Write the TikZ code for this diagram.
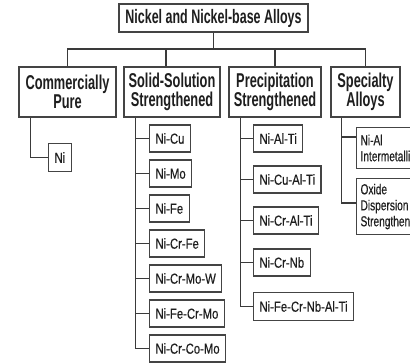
\documentclass[tikz,border=0pt]{standalone}
\usepackage{fontspec}
\setmainfont{Liberation Sans}
\newfontfamily\boldcond{Liberation Sans}[FakeStretch=0.64]
\newfontfamily\leaffont{Liberation Sans}[FakeStretch=0.78,FakeBold=0.4]
\newfontfamily\specfont{Liberation Sans}[FakeStretch=0.70,FakeBold=0.4]
\usetikzlibrary{calc}
\definecolor{linec}{HTML}{3A3A3A}
\definecolor{boxc}{HTML}{444444}
\definecolor{txtc}{HTML}{1E1E1E}
\tikzset{
  conn/.style={draw=linec, line width=1.25pt},
  topbox/.style={draw=boxc, line width=1.1pt, text=txtc,
    font=\boldcond\bfseries\fontsize{19.5}{21}\selectfont,
    inner sep=0pt, minimum width=189pt, minimum height=28pt},
  catbox/.style={draw=boxc, line width=1.1pt, text=txtc,
    font=\boldcond\bfseries\fontsize{20}{18.5}\selectfont,
    align=center, inner sep=0pt, minimum height=50pt},
  leaf/.style={draw=boxc, line width=1.1pt, text=txtc,
    font=\leaffont\fontsize{14.5}{16}\selectfont,
    inner xsep=6pt, inner ysep=0pt, minimum height=27pt, anchor=west},
  specbox/.style={draw=boxc, line width=1.1pt, text=txtc,
    font=\specfont\fontsize{14.5}{16}\selectfont,
    align=left, inner xsep=4pt, inner ysep=0pt, minimum width=80pt,
    anchor=north west, text width=72pt}
}
\begin{document}
\begin{tikzpicture}[x=1pt,y=-1pt]
\useasboundingbox (0,0) rectangle (410,363);
\clip (0,0) rectangle (410,363);
\fill[white] (0,0) rectangle (410,363);

% root and categories
\node[topbox] (root) at (213.5,18) {Nickel and Nickel-base Alloys};
\node[catbox, minimum width=97pt] (cp) at (67.5,92) {Commercially\\Pure};
\node[catbox, minimum width=96pt] (ss) at (172,92) {Solid-Solution\\Strengthened};
\node[catbox, minimum width=92pt] (ps) at (275,92) {Precipitation\\Strengthened};
\node[catbox, minimum width=69pt] (sa) at (365.5,92) {Specialty\\Alloys};

\coordinate (bar) at (213,49);
\coordinate (ssdrop) at ($(ss.north)+(-6,0)$);
\draw[conn] (root.south) -- (root.south |- bar);
\draw[conn] (cp.north) -- (cp.north |- bar) -- (sa.north |- bar) -- (sa.north);
\draw[conn] (ssdrop |- bar) -- (ssdrop);
\draw[conn] (ps.north |- bar) -- (ps.north);

% Commercially pure
\coordinate (cpsp) at ($(cp.south west)+(12,0)$);
\node[leaf, minimum height=28pt] (ni) at (48,157.5) {Ni};
\draw[conn] (cpsp) |- (ni.west);

% Solid-solution
\coordinate (sssp) at ($(ss.south west)+(12,0)$);
\node[leaf] (s1) at (149,138.5) {Ni-Cu};
\node[leaf] (s2) at (149,173.5) {Ni-Mo};
\node[leaf] (s3) at (149,208.5) {Ni-Fe};
\node[leaf] (s4) at (149,243.5) {Ni-Cr-Fe};
\node[leaf] (s5) at (149,278.5) {Ni-Cr-Mo-W};
\node[leaf] (s6) at (149,313.5) {Ni-Fe-Cr-Mo};
\node[leaf] (s7) at (149,348.5) {Ni-Cr-Co-Mo};
\draw[conn] (sssp) |- (s7.west);
\foreach \n in {s1,s2,s3,s4,s5,s6}
  \draw[conn] (\n.west -| sssp) -- (\n.west);

% Precipitation
\coordinate (pssp) at ($(ps.south west)+(12,0)$);
\node[leaf] (p1) at (253,138.5) {Ni-Al-Ti};
\node[leaf] (p2) at (253,179.5) {Ni-Cu-Al-Ti};
\node[leaf] (p3) at (253,220.5) {Ni-Cr-Al-Ti};
\node[leaf] (p4) at (253,262.5) {Ni-Cr-Nb};
\node[leaf, minimum height=28pt] (p5) at (253,306.5) {Ni-Fe-Cr-Nb-Al-Ti};
\draw[conn] (pssp) |- (p5.west);
\foreach \n in {p1,p2,p3,p4}
  \draw[conn] (\n.west -| pssp) -- (\n.west);

% Specialty
\coordinate (sasp) at ($(sa.south west)+(11,0)$);
\node[specbox, minimum height=41pt] (x1) at (356,127) {Ni-Al\\Intermetallic};
\node[specbox, minimum height=56pt] (x2) at (356,178) {Oxide\\Dispersion\\Strengthened};
\coordinate (x1c) at ($(x1.north west)+(0,10)$);
\coordinate (x2c) at ($(x2.north west)+(0,25)$);
\draw[conn] (sasp) |- (x2c);
\draw[conn] (x1c -| sasp) -- (x1c);
\end{tikzpicture}
\end{document}
